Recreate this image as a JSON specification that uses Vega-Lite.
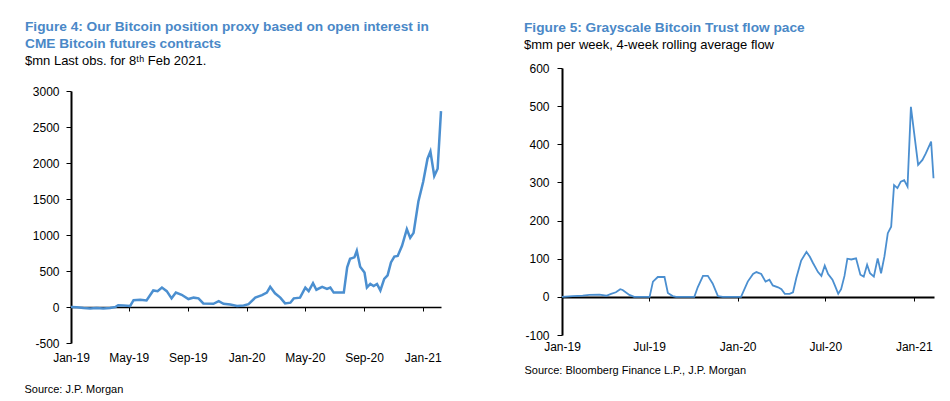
{
  "$schema": "https://vega.github.io/schema/vega-lite/v6.json",
  "background": "white",
  "padding": {"left": 24, "top": 20, "right": 5, "bottom": 5},
  "spacing": 78,
  "config": {
    "view": {"stroke": null},
    "font": "Liberation Sans",
    "axis": {
      "grid": false,
      "domainColor": "black",
      "tickColor": "black",
      "labelColor": "black",
      "labelFont": "Liberation Sans",
      "labelFontSize": 12,
      "titleFont": "Liberation Sans",
      "titleColor": "black"
    },
    "title": {
      "font": "Liberation Sans",
      "fontSize": 13.7,
      "fontWeight": "bold",
      "color": "#4a88c7",
      "lineHeight": 17,
      "subtitleFont": "Liberation Sans",
      "subtitleFontSize": 13,
      "subtitleColor": "black",
      "subtitlePadding": 4,
      "anchor": "start",
      "frame": "group"
    }
  },
  "datasets": {
    "cme": [
      {"date": "2019-01-01", "value": 0},
      {"date": "2019-01-13", "value": -5},
      {"date": "2019-01-27", "value": -15},
      {"date": "2019-02-10", "value": -20},
      {"date": "2019-02-23", "value": -15},
      {"date": "2019-03-09", "value": -20},
      {"date": "2019-03-23", "value": -15},
      {"date": "2019-04-03", "value": 0},
      {"date": "2019-04-09", "value": 25},
      {"date": "2019-04-20", "value": 20},
      {"date": "2019-05-04", "value": 15},
      {"date": "2019-05-11", "value": 95},
      {"date": "2019-05-25", "value": 100},
      {"date": "2019-06-07", "value": 90},
      {"date": "2019-06-21", "value": 230},
      {"date": "2019-06-30", "value": 220},
      {"date": "2019-07-09", "value": 270},
      {"date": "2019-07-19", "value": 220},
      {"date": "2019-07-29", "value": 120},
      {"date": "2019-08-07", "value": 200},
      {"date": "2019-08-19", "value": 170},
      {"date": "2019-09-02", "value": 110},
      {"date": "2019-09-13", "value": 130},
      {"date": "2019-09-23", "value": 120},
      {"date": "2019-10-03", "value": 50},
      {"date": "2019-10-24", "value": 45},
      {"date": "2019-11-04", "value": 80},
      {"date": "2019-11-14", "value": 45},
      {"date": "2019-11-28", "value": 35},
      {"date": "2019-12-12", "value": 15},
      {"date": "2019-12-26", "value": 20},
      {"date": "2020-01-05", "value": 40},
      {"date": "2020-01-19", "value": 130},
      {"date": "2020-02-02", "value": 165},
      {"date": "2020-02-12", "value": 200},
      {"date": "2020-02-19", "value": 280},
      {"date": "2020-02-29", "value": 190},
      {"date": "2020-03-11", "value": 130},
      {"date": "2020-03-21", "value": 50},
      {"date": "2020-04-01", "value": 60},
      {"date": "2020-04-08", "value": 120},
      {"date": "2020-04-21", "value": 130},
      {"date": "2020-05-02", "value": 270},
      {"date": "2020-05-09", "value": 220},
      {"date": "2020-05-18", "value": 330},
      {"date": "2020-05-25", "value": 240},
      {"date": "2020-06-06", "value": 280},
      {"date": "2020-06-16", "value": 250},
      {"date": "2020-06-23", "value": 270},
      {"date": "2020-06-30", "value": 200},
      {"date": "2020-07-21", "value": 200},
      {"date": "2020-07-28", "value": 550},
      {"date": "2020-08-03", "value": 670},
      {"date": "2020-08-12", "value": 690},
      {"date": "2020-08-17", "value": 780},
      {"date": "2020-08-24", "value": 560},
      {"date": "2020-09-02", "value": 480},
      {"date": "2020-09-07", "value": 270},
      {"date": "2020-09-14", "value": 320},
      {"date": "2020-09-21", "value": 290},
      {"date": "2020-09-28", "value": 320},
      {"date": "2020-10-05", "value": 230},
      {"date": "2020-10-13", "value": 390},
      {"date": "2020-10-20", "value": 440},
      {"date": "2020-10-27", "value": 620},
      {"date": "2020-11-03", "value": 700},
      {"date": "2020-11-10", "value": 710},
      {"date": "2020-11-19", "value": 850},
      {"date": "2020-11-29", "value": 1080},
      {"date": "2020-12-06", "value": 960},
      {"date": "2020-12-13", "value": 1030},
      {"date": "2020-12-23", "value": 1465},
      {"date": "2021-01-02", "value": 1740},
      {"date": "2021-01-11", "value": 2060},
      {"date": "2021-01-17", "value": 2160},
      {"date": "2021-01-25", "value": 1820},
      {"date": "2021-02-01", "value": 1920},
      {"date": "2021-02-08", "value": 2720}
    ],
    "gbtc": [
      {"date": "2019-01-01", "value": 0},
      {"date": "2019-01-23", "value": 2},
      {"date": "2019-02-13", "value": 3},
      {"date": "2019-02-27", "value": 5},
      {"date": "2019-03-20", "value": 6},
      {"date": "2019-04-03", "value": 3},
      {"date": "2019-04-13", "value": 8},
      {"date": "2019-04-23", "value": 12},
      {"date": "2019-05-02", "value": 20},
      {"date": "2019-05-07", "value": 18},
      {"date": "2019-05-21", "value": 5},
      {"date": "2019-05-31", "value": 0},
      {"date": "2019-07-02", "value": 0},
      {"date": "2019-07-09", "value": 40},
      {"date": "2019-07-19", "value": 52},
      {"date": "2019-08-02", "value": 52},
      {"date": "2019-08-09", "value": 10},
      {"date": "2019-08-19", "value": 2},
      {"date": "2019-08-26", "value": 0},
      {"date": "2019-10-03", "value": 0},
      {"date": "2019-10-10", "value": 25},
      {"date": "2019-10-21", "value": 55},
      {"date": "2019-10-31", "value": 55},
      {"date": "2019-11-10", "value": 35},
      {"date": "2019-11-21", "value": 2},
      {"date": "2019-12-01", "value": 0},
      {"date": "2020-01-08", "value": 0},
      {"date": "2020-01-22", "value": 40},
      {"date": "2020-02-02", "value": 60},
      {"date": "2020-02-09", "value": 65},
      {"date": "2020-02-19", "value": 60},
      {"date": "2020-02-28", "value": 40},
      {"date": "2020-03-07", "value": 45},
      {"date": "2020-03-14", "value": 30},
      {"date": "2020-03-25", "value": 25},
      {"date": "2020-04-01", "value": 20},
      {"date": "2020-04-08", "value": 8},
      {"date": "2020-04-18", "value": 8},
      {"date": "2020-04-25", "value": 12},
      {"date": "2020-05-02", "value": 50},
      {"date": "2020-05-12", "value": 95},
      {"date": "2020-05-23", "value": 118},
      {"date": "2020-05-30", "value": 105},
      {"date": "2020-06-05", "value": 90},
      {"date": "2020-06-16", "value": 65},
      {"date": "2020-06-23", "value": 55},
      {"date": "2020-06-30", "value": 82},
      {"date": "2020-07-07", "value": 60},
      {"date": "2020-07-16", "value": 45},
      {"date": "2020-07-21", "value": 30},
      {"date": "2020-07-28", "value": 8},
      {"date": "2020-08-03", "value": 20},
      {"date": "2020-08-10", "value": 55},
      {"date": "2020-08-16", "value": 100},
      {"date": "2020-08-24", "value": 98},
      {"date": "2020-09-03", "value": 101},
      {"date": "2020-09-12", "value": 58},
      {"date": "2020-09-19", "value": 53},
      {"date": "2020-09-26", "value": 84},
      {"date": "2020-10-02", "value": 62},
      {"date": "2020-10-10", "value": 53},
      {"date": "2020-10-18", "value": 101},
      {"date": "2020-10-25", "value": 62},
      {"date": "2020-11-01", "value": 106},
      {"date": "2020-11-08", "value": 167},
      {"date": "2020-11-15", "value": 184},
      {"date": "2020-11-21", "value": 293},
      {"date": "2020-11-28", "value": 285},
      {"date": "2020-12-05", "value": 302},
      {"date": "2020-12-12", "value": 306},
      {"date": "2020-12-19", "value": 289},
      {"date": "2020-12-26", "value": 498},
      {"date": "2021-01-10", "value": 346},
      {"date": "2021-01-19", "value": 359},
      {"date": "2021-01-26", "value": 376},
      {"date": "2021-02-06", "value": 407},
      {"date": "2021-02-11", "value": 311}
    ]
  },
  "hconcat": [
    {
      "width": 370,
      "height": 275,
      "title": {
        "text": ["Figure 4: Our Bitcoin position proxy based on open interest in", "CME Bitcoin futures contracts"],
        "subtitle": "$mn Last obs. for 8ᵗʰ Feb 2021.",
        "dx": -46,
        "offset": 0
      },
      "data": {"name": "cme"},
      "mark": {"type": "line", "color": "#4b8fd0", "strokeWidth": 2.5},
      "encoding": {
        "x": {
          "field": "date",
          "type": "temporal",
          "scale": {
            "type": "utc",
            "domain": [
              {"year": 2019, "month": 1, "date": 1, "utc": true},
              {"year": 2021, "month": 2, "date": 8, "utc": true}
            ]
          },
          "axis": {
            "values": [
              {"year": 2019, "month": 1, "date": 1, "utc": true},
              {"year": 2019, "month": 5, "date": 1, "utc": true},
              {"year": 2019, "month": 9, "date": 1, "utc": true},
              {"year": 2020, "month": 1, "date": 1, "utc": true},
              {"year": 2020, "month": 5, "date": 1, "utc": true},
              {"year": 2020, "month": 9, "date": 1, "utc": true},
              {"year": 2021, "month": 1, "date": 1, "utc": true}
            ],
            "format": "%b-%y",
            "offset": -36,
            "tickSize": 4,
            "domainWidth": 1.5,
            "labelPadding": 41,
            "labelFlush": false,
            "labelOverlap": false,
            "title": "Source: J.P. Morgan",
            "titleFontSize": 11,
            "titleFontWeight": "normal",
            "titleAnchor": "start",
            "titleAlign": "left",
            "titleBaseline": "alphabetic",
            "titleX": -47,
            "titleY": 85
          }
        },
        "y": {
          "field": "value",
          "type": "quantitative",
          "scale": {"domain": [-500, 3000], "nice": false, "range": [275, 23]},
          "axis": {
            "title": null,
            "values": [-500, 0, 500, 1000, 1500, 2000, 2500, 3000],
            "labelExpr": "'' + datum.value",
            "tickSize": 5,
            "labelPadding": 7,
            "domainWidth": 2
          }
        }
      }
    },
    {
      "width": 372,
      "height": 267,
      "title": {
        "text": "Figure 5: Grayscale Bitcoin Trust flow pace",
        "subtitle": "$mm per week, 4-week rolling average flow",
        "dx": -38,
        "offset": 10.5
      },
      "data": {"name": "gbtc"},
      "mark": {"type": "line", "color": "#4b8fd0", "strokeWidth": 1.8},
      "encoding": {
        "x": {
          "field": "date",
          "type": "temporal",
          "scale": {
            "type": "utc",
            "domain": [
              {"year": 2019, "month": 1, "date": 1, "utc": true},
              {"year": 2021, "month": 2, "date": 12, "utc": true}
            ]
          },
          "axis": {
            "values": [
              {"year": 2019, "month": 1, "date": 1, "utc": true},
              {"year": 2019, "month": 7, "date": 1, "utc": true},
              {"year": 2020, "month": 1, "date": 1, "utc": true},
              {"year": 2020, "month": 7, "date": 1, "utc": true},
              {"year": 2021, "month": 1, "date": 1, "utc": true}
            ],
            "format": "%b-%y",
            "offset": -38,
            "tickSize": 4,
            "domainWidth": 2,
            "labelPadding": 40,
            "labelFlush": false,
            "labelOverlap": false,
            "title": "Source: Bloomberg Finance L.P., J.P. Morgan",
            "titleFontSize": 11,
            "titleFontWeight": "normal",
            "titleAnchor": "start",
            "titleAlign": "left",
            "titleBaseline": "alphabetic",
            "titleX": -38,
            "titleY": 76
          }
        },
        "y": {
          "field": "value",
          "type": "quantitative",
          "scale": {"domain": [-100, 600], "nice": false},
          "axis": {
            "title": null,
            "values": [-100, 0, 100, 200, 300, 400, 500, 600],
            "labelExpr": "'' + datum.value",
            "tickSize": 5,
            "labelPadding": 8,
            "domainWidth": 2
          }
        }
      }
    }
  ]
}
